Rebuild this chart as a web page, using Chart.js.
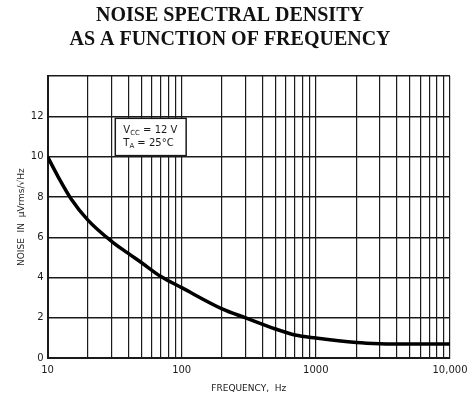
<!DOCTYPE html>
<html>
<head>
<meta charset="utf-8">
<script src="https://cdn.jsdelivr.net/npm/chart.js@4.4.1/dist/chart.umd.min.js"></script>
<style>
  html, body { margin: 0; padding: 0; background: #fff; }
  #wrap { position: relative; width: 474px; height: 398px; }
</style>
</head>
<body>
<div id="wrap"><canvas id="noise-chart" width="474" height="398"></canvas></div>
<script>
// Noise spectral density vs frequency (log x axis)

const TITLE_LINES = ['NOISE SPECTRAL DENSITY', 'AS A FUNCTION OF FREQUENCY'];

// Frequency in Hz, noise in uVrms/sqrt(Hz)
const freqs = [10, 12, 15, 20, 30, 40, 50, 70, 100, 200, 300, 500, 700, 1000, 2000, 3000, 5000, 10000];
const noise = [10, 9.0, 7.9, 6.85, 5.8, 5.2, 4.75, 4.05, 3.5, 2.45, 2.0, 1.45, 1.15, 1.0, 0.78, 0.72, 0.7, 0.7];

// Axis ticks
const xGridTicks = [];
for (const decade of [10, 100, 1000]) {
    for (let k = 1; k <= 9; k++) xGridTicks.push(decade * k);
}
xGridTicks.push(10000);
const xLabels = { 10: '10', 100: '100', 1000: '1000', 10000: '10,000' };
const yLabeled = [0, 2, 4, 6, 8, 10, 12];

const INK = '#1a1a1a';

// Condition box drawn in data coordinates
const conditionBox = {
    x0: 32, x1: 108, y0: 10.05, y1: 11.9,
    lines: [['V', 'CC', ' = 12 V'], ['T', 'A', ' = 25°C']]
};

const conditionPlugin = {
    id: 'conditionBox',
    afterDatasetsDraw(chart) {
        const { ctx, scales: { x, y } } = chart;
        const left = x.getPixelForValue(conditionBox.x0);
        const right = x.getPixelForValue(conditionBox.x1);
        const top = y.getPixelForValue(conditionBox.y1);
        const bottom = y.getPixelForValue(conditionBox.y0);
        ctx.save();
        ctx.fillStyle = '#fff';
        ctx.fillRect(left, top, right - left, bottom - top);
        ctx.strokeStyle = INK;
        ctx.lineWidth = 1.5;
        ctx.strokeRect(left, top, right - left, bottom - top);
        ctx.fillStyle = INK;
        ctx.textBaseline = 'alphabetic';
        conditionBox.lines.forEach((parts, i) => {
            let cx = left + 8;
            const cy = top + 15 + i * 13;
            ctx.font = '10px "DejaVu Sans"';
            ctx.fillText(parts[0], cx, cy);
            cx += ctx.measureText(parts[0]).width;
            ctx.font = '7px "DejaVu Sans"';
            ctx.fillText(parts[1], cx, cy + 2);
            cx += ctx.measureText(parts[1]).width;
            ctx.font = '10px "DejaVu Sans"';
            ctx.fillText(parts[2], cx, cy);
        });
        ctx.restore();
    }
};

const canvas = document.getElementById('noise-chart');
new Chart(canvas.getContext('2d'), {
    type: 'line',
    data: {
        datasets: [{
            data: freqs.map((f, i) => ({ x: f, y: noise[i] })),
            borderColor: '#000',
            borderWidth: 3.5,
            pointRadius: 0,
            cubicInterpolationMode: 'monotone',
            fill: false
        }]
    },
    options: {
        responsive: false,
        animation: false,
        layout: { padding: { left: 10, right: 24, top: 0, bottom: 2 } },
        plugins: {
            legend: { display: false },
            tooltip: { enabled: false },
            title: {
                display: true,
                text: TITLE_LINES,
                color: '#111',
                font: { family: '"Liberation Serif", serif', size: 20, weight: 'bold', lineHeight: 1.2 },
                padding: { top: 4, bottom: 24 }
            }
        },
        scales: {
            x: {
                type: 'logarithmic',
                min: 10,
                max: 10000,
                afterBuildTicks: (axis) => {
                    axis.ticks = xGridTicks.map(v => ({ value: v }));
                },
                ticks: {
                    autoSkip: false,
                    maxRotation: 0,
                    color: INK,
                    padding: 6,
                    font: { family: '"DejaVu Sans"', size: 10 },
                    callback: (v) => xLabels[v] || ''
                },
                grid: { color: INK, lineWidth: 1.2, drawTicks: false },
                border: { color: INK, width: 2 },
                title: {
                    display: true,
                    text: 'FREQUENCY,  Hz',
                    color: INK,
                    font: { family: '"DejaVu Sans"', size: 9 },
                    padding: { top: 1, bottom: 2 }
                }
            },
            y: {
                min: 0,
                max: 14,
                ticks: {
                    stepSize: 2,
                    color: INK,
                    padding: 4,
                    font: { family: '"DejaVu Sans"', size: 10 },
                    callback: (v) => yLabeled.includes(v) ? String(v) : ''
                },
                grid: { color: INK, lineWidth: 1.5, drawTicks: false },
                border: { color: INK, width: 2 },
                title: {
                    display: true,
                    text: 'NOISE  IN  µVrms/√Hz',
                    color: INK,
                    font: { family: '"DejaVu Sans"', size: 9 },
                    padding: { top: 6, bottom: 0 }
                }
            }
        }
    },
    plugins: [conditionPlugin]
});
</script>
</body>
</html>
